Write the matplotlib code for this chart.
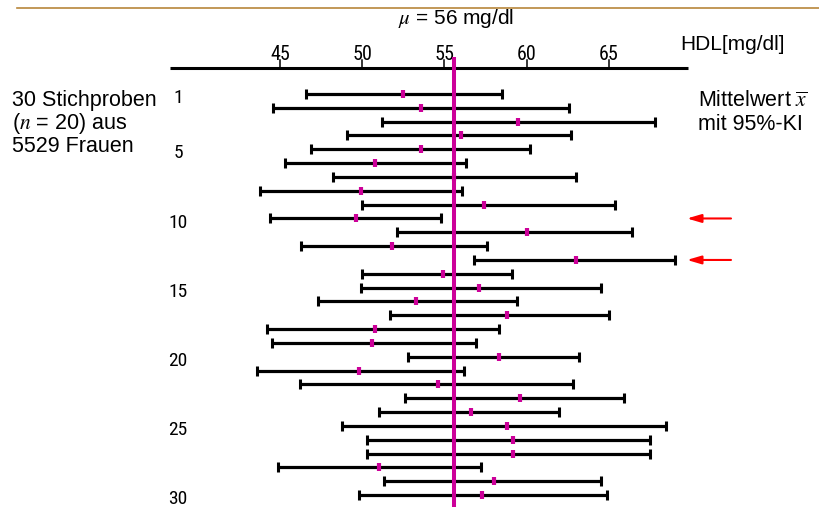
import matplotlib
matplotlib.use('Agg')
import matplotlib.pyplot as plt
import matplotlib.transforms as mtransforms
import numpy as np

plt.rcParams['mathtext.fontset'] = 'stix'

# 30 samples (n = 20): 95% confidence interval and sample mean, HDL in mg/dl
sample_no = np.arange(1, 31)
ci_low = np.array([46.6, 44.6, 51.2, 49.1, 46.9, 45.3, 48.2, 43.8, 50.0, 44.4,
                   52.1, 46.3, 56.8, 50.0, 49.9, 47.3, 51.7, 44.2, 44.5, 52.8,
                   43.6, 46.2, 52.6, 51.0, 48.8, 50.3, 50.3, 44.9, 51.3, 49.8])
ci_high = np.array([58.5, 62.6, 67.8, 62.7, 60.2, 56.3, 63.0, 56.1, 65.4, 54.8,
                    66.4, 57.6, 69.0, 59.1, 64.5, 59.4, 65.0, 58.3, 56.9, 63.2,
                    56.2, 62.8, 65.9, 62.0, 68.5, 67.5, 67.5, 57.2, 64.5, 64.9])
means = np.array([52.5, 53.6, 59.5, 56.0, 53.6, 50.8, 55.6, 49.9, 57.4, 49.6,
                  60.0, 51.8, 63.0, 54.9, 57.1, 53.3, 58.8, 50.8, 50.6, 58.3,
                  49.8, 54.6, 59.6, 56.6, 58.8, 59.2, 59.2, 51.0, 58.0, 57.3])
mu_line = 55.6          # where the population mean line is drawn
x_ticks = [45, 50, 55, 60, 65]
row_labels = [1, 5, 10, 15, 20, 25, 30]

MAGENTA = '#cc0099'
SANS = ['Liberation Sans', 'DejaVu Sans']
NARROW = ['Liberation Sans Narrow', 'Roboto Condensed', 'DejaVu Sans']

W, H = 820, 507
PX_UNIT = 16.44     # pixels per mg/dl
ROW_PX = 13.83      # pixels per sample row


def row_at(py):
    # pixel row (from top) -> sample row coordinate
    return 1 + (py - 94) / ROW_PX


def val_at(px):
    return 45 + (px - 280) / PX_UNIT


fig = plt.figure(figsize=(W / 100, H / 100), dpi=100)
ax = fig.add_axes([0, 0, 1, 1])
ax.set_xlim(val_at(0), val_at(W))
ax.set_ylim(row_at(H), row_at(0))
ax.axis('off')

# top rule
ax.plot([val_at(17), val_at(W)], [row_at(8)] * 2, color='#b8863b', lw=1.2)

# horizontal scale
ax.plot([val_at(170), val_at(688)], [row_at(68.3)] * 2, color='black', lw=2.2,
        solid_capstyle='butt')
for t in x_ticks:
    ax.plot([t, t], [row_at(68.3), row_at(60)], color='black', lw=1.1)
    ax.text(t, row_at(54), str(t), ha='center', va='center', fontsize=14.5,
            family=NARROW, fontstretch='condensed')

# confidence intervals
ax.errorbar(means, sample_no, xerr=[means - ci_low, ci_high - means], fmt='none',
            ecolor='black', elinewidth=2.3, capsize=3.8, capthick=2.2, zorder=2)

# population mean
ax.plot([mu_line, mu_line], [row_at(57), row_at(H + 10)], color=MAGENTA, lw=2.9,
        solid_capstyle='butt', zorder=3)

# sample means
ax.plot(means, sample_no, ls='none', marker='|', ms=5.8, mew=3.0, color=MAGENTA,
        zorder=4)

# red arrows at the intervals that miss mu
missed = sample_no[(ci_low > mu_line) | (ci_high < mu_line)]
for r in missed:
    ax.annotate('', xy=(val_at(687), r), xytext=(val_at(731), r),
                arrowprops=dict(arrowstyle='-|>,head_length=0.85,head_width=0.25',
                                color='red', lw=1.5, shrinkA=0, shrinkB=0))

# row numbers
trans = mtransforms.blended_transform_factory(fig.transFigure, ax.transData)
for k in row_labels:
    ax.text(178 / W, k + 0.3, str(k), transform=trans, ha='center', va='center',
            fontsize=14, family=NARROW, fontstretch='condensed')

# texts
fig.text(456 / W, 1 - 19 / H, r'$\mu$ = 56 mg/dl', ha='center', va='center',
         fontsize=15, family=SANS)
fig.text(680 / W, 1 - 44 / H, 'HDL[mg/dl]', ha='left', va='center',
         fontsize=15, family=SANS)
for txt, py in [('30 Stichproben', 105.5), (r'($n$ = 20) aus', 128.5), ('5529 Frauen', 151.5)]:
    fig.text(12 / W, 1 - py / H, txt, ha='left', va='baseline', fontsize=15.5, family=SANS)
for txt, py in [(r'Mittelwert $\overline{x}$', 107), ('mit 95%-KI', 129.5)]:
    fig.text(698 / W, 1 - py / H, txt, ha='left', va='baseline', fontsize=15.5, family=SANS)

fig.savefig('out.png', dpi=100)
